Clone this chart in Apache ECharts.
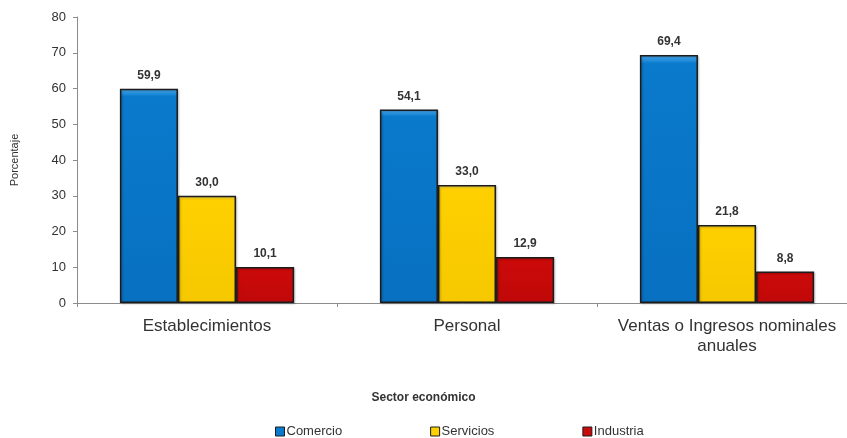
<!DOCTYPE html>
<html>
<head>
<meta charset="utf-8">
<script src="https://cdn.jsdelivr.net/npm/echarts@6/dist/echarts.min.js"></script>
<style>
  html, body { margin: 0; padding: 0; background: #fff; }
  #chart { width: 847px; height: 438px; }
</style>
</head>
<body>
<div id="chart"></div>
<script>
// Participación por sector económico (porcentaje)
const categories = ['Establecimientos', 'Personal', 'Ventas o Ingresos nominales\nanuales'];
const comercio = [59.9, 54.1, 69.4];
const servicios = [30.0, 33.0, 21.8];
const industria = [10.1, 12.9, 8.8];
const yTicks = [0, 10, 20, 30, 40, 50, 60, 70, 80];

const FONT = '"Liberation Sans", Arial, sans-serif';

function fill(light, base, dark) {
  return {
    type: 'linear', x: 0, y: 0, x2: 0, y2: 1,
    colorStops: [
      { offset: 0, color: light },
      { offset: 0.035, color: base },
      { offset: 1, color: dark }
    ]
  };
}

function barSeries(name, data, light, base, dark) {
  return {
    name: name,
    type: 'bar',
    data: data,
    barGap: '0%',
    barCategoryGap: '33%',
    itemStyle: {
      color: fill(light, base, dark),
      borderColor: '#1c1c1c',
      borderWidth: 1.5,
      shadowColor: 'rgba(0,0,0,0.25)',
      shadowBlur: 2,
      shadowOffsetX: 1,
      shadowOffsetY: 1
    },
    label: {
      show: true,
      position: 'top',
      distance: 7,
      fontFamily: FONT,
      fontWeight: 'bold',
      fontSize: 12,
      color: '#333',
      formatter: p => p.value.toFixed(1).replace('.', ',')
    }
  };
}

const chart = echarts.init(document.getElementById('chart'), null, { renderer: 'canvas' });
chart.setOption({
  animation: false,
  backgroundColor: '#fff',
  textStyle: { fontFamily: FONT },
  title: {
    text: 'Sector económico',
    left: 'center',
    top: 392,
    padding: 0,
    textStyle: { fontFamily: FONT, fontWeight: 'bold', fontSize: 12, color: '#333' }
  },
  grid: { left: 77, right: -10, top: 17, bottom: 135, containLabel: false, outerBoundsMode: 'none' },
  legend: {
    data: [
      { name: 'Comercio', itemStyle: { color: '#0a7acc', borderColor: '#1c1c1c', borderWidth: 1 } },
      { name: 'Servicios', itemStyle: { color: '#ffd000', borderColor: '#1c1c1c', borderWidth: 1 } },
      { name: 'Industria', itemStyle: { color: '#cc0a0a', borderColor: '#1c1c1c', borderWidth: 1 } }
    ],
    left: 275,
    top: 425,
    padding: 0,
    itemWidth: 9,
    itemHeight: 9,
    itemGap: 88,
    icon: 'rect',
    textStyle: { fontFamily: FONT, fontSize: 13, color: '#333', padding: [0, 0, 0, -3] }
  },
  xAxis: {
    type: 'category',
    data: categories,
    axisLine: { lineStyle: { color: '#8c8c8c', width: 1 } },
    axisTick: { show: true, length: 4, lineStyle: { color: '#8c8c8c' } },
    axisLabel: { fontFamily: FONT, fontSize: 17, color: '#333', margin: 13, lineHeight: 20, interval: 0 }
  },
  yAxis: {
    type: 'value',
    min: 0,
    max: 80,
    interval: 10,
    name: 'Porcentaje',
    nameLocation: 'middle',
    nameGap: 57,
    nameRotate: 90,
    nameTextStyle: { fontFamily: FONT, fontSize: 11, color: '#333' },
    axisLine: { show: true, lineStyle: { color: '#8c8c8c', width: 1 } },
    axisTick: { show: true, length: 4, lineStyle: { color: '#8c8c8c' } },
    splitLine: { show: false },
    axisLabel: {
      fontFamily: FONT, fontSize: 13, color: '#333', margin: 11,
      formatter: v => (yTicks.indexOf(v) >= 0 ? String(v) : '')
    }
  },
  series: [
    barSeries('Comercio', comercio, '#4fb0f5', '#0a7acc', '#0870c0'),
    barSeries('Servicios', servicios, '#ffe866', '#ffd000', '#f5c800'),
    barSeries('Industria', industria, '#f05050', '#cc0a0a', '#c00808')
  ]
});
</script>
</body>
</html>
